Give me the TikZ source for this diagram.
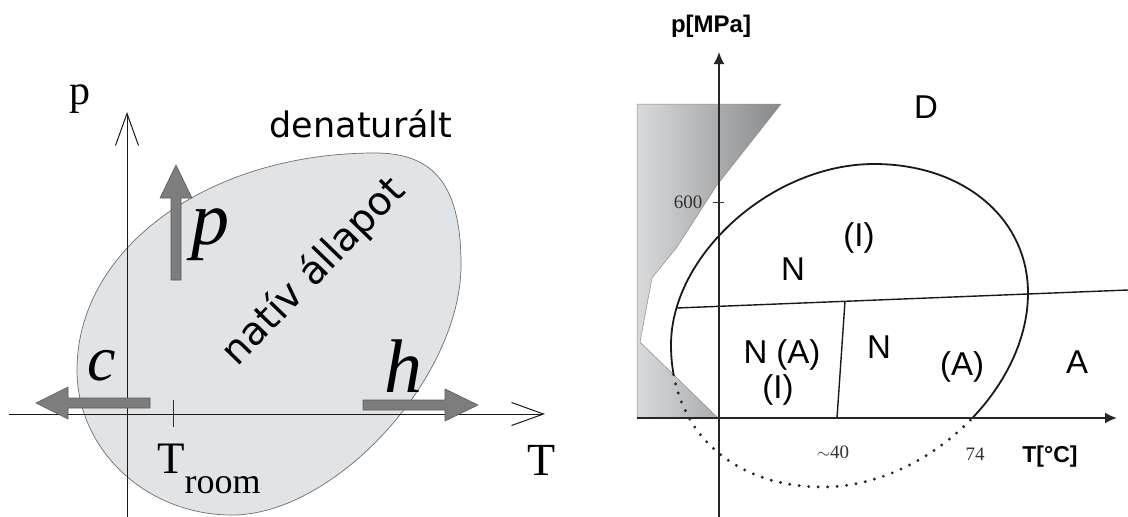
\documentclass[tikz,border=0pt]{standalone}
\usepackage{fontspec}
\setmainfont{Liberation Serif}
\newfontfamily\dvsans{DejaVu Sans}
\newfontfamily\lsans{Liberation Sans}
\usetikzlibrary{arrows.meta}
\definecolor{eggfill}{HTML}{E1E4E7}
\definecolor{eggline}{HTML}{6E6E6E}
\definecolor{arrowgray}{HTML}{7D7D7D}
\definecolor{arrowedge}{HTML}{5A5A5A}
\definecolor{bandlight}{HTML}{D8DADC}
\definecolor{banddark}{HTML}{86888A}
\tikzset{
  thinaxis/.style={line width=1pt, draw=black!90, -{Straight Barb[length=32pt,width=23pt]}},
  boldaxis/.style={line width=1.8pt, draw=black!85, -{Latex[length=12pt,width=11pt]}},
  grayarrow/.style={fill=arrowgray, draw=arrowedge, line width=0.6pt},
  egg/.style={fill=eggfill, draw=eggline, line width=0.7pt},
  phase/.style={line width=1.8pt, draw=black!90},
  divider/.style={line width=1.4pt, draw=black!90},
  dotline/.style={line width=3.2pt, draw=black!85, line cap=round, dash pattern=on 0pt off 9.5pt},
  serifbig/.style={inner sep=0pt, anchor=base, font=\fontsize{46}{48}\selectfont},
  italbig/.style={inner sep=0pt, anchor=base, font=\itshape\fontsize{76}{80}\selectfont},
  region/.style={inner sep=0pt, anchor=base, font=\lsans\fontsize{33}{36}\selectfont},
  tickno/.style={inner sep=0pt, anchor=base, font=\fontsize{19}{20}\selectfont, text=black!80},
  unitlab/.style={inner sep=0pt, anchor=base, font=\lsans\bfseries\fontsize{23}{25}\selectfont},
}
\begin{document}
\begin{tikzpicture}[x=1pt,y=-1pt]
\useasboundingbox (0,0) rectangle (1128,517);
\fill[white] (0,0) rectangle (1128,517);

%% ---------------- left panel ----------------
\filldraw[egg] (77,370) .. controls (77,450) and (146.4,515) .. (232,515)
  .. controls (335,515) and (461,377.5) .. (461,265)
  .. controls (461,186.6) and (435.2,153) .. (375,153)
  .. controls (208,153) and (77,248.5) .. (77,370) -- cycle;

\coordinate (lyb) at (127,517);
\coordinate (lyt) at (127,112);
\coordinate (lxl) at (9,414);
\coordinate (lxr) at (545,414);
\draw[thinaxis] (lyb) -- (lyt);
\draw[thinaxis] (lxl) -- (lxr);
\coordinate (tka) at (173,400);
\coordinate (tkb) at (173,427);
\draw[line width=0.8pt, black!80] (tka) -- (tkb);

% gray arrows
\draw[grayarrow] (150,398) -- (68,398) -- (68,387) -- (36,403) -- (68,419) -- (68,408) -- (150,408) -- cycle;
\draw[grayarrow] (363,400) -- (445,400) -- (445,389) -- (478,405) -- (445,421) -- (445,410) -- (363,410) -- cycle;
\draw[grayarrow] (171,280) -- (171,198) -- (160,198) -- (176,165) -- (192,198) -- (181,198) -- (181,280) -- cycle;

\node[inner sep=0pt, anchor=base, font=\fontsize{42}{44}\selectfont] (plab) at (80,104) {p};
\node[serifbig] (tlab) at (542,475) {T};
\node[inner sep=0pt, anchor=base west] (troom) at (157,473)
  {\fontsize{45}{46}\selectfont T\fontsize{36}{38}\selectfont\raisebox{-20pt}{room}};
\node[italbig, font=\itshape\fontsize{64}{66}\selectfont] (clab) at (102,380) {c};
\node[italbig] (hlab) at (403,392) {h};
\node[italbig] (pilab) at (210,244) {p};
\node[inner sep=0pt, anchor=base, font=\dvsans\fontsize{35}{38}\selectfont] (den) at (361,137) {denaturált};
\node[inner sep=0pt, rotate=46, font=\dvsans\fontsize{39}{42}\selectfont] (nat) at (314,272) {natív állapot};

%% ---------------- right panel ----------------
\shade[left color=bandlight, right color=banddark, draw=black!45, line width=0.5pt]
  (637,104) -- (781,104) -- (717,185) -- (677,247) -- (652,278) -- (640,342) -- (718,418) -- (637,418) -- cycle;

% solid part of the phase boundary
\begin{scope}
  \clip (718,418) -- (1128,418) -- (1128,0) -- (286.7,0) -- cycle;
  \draw[phase] (671,345) .. controls (671,254.5) and (772.5,164) .. (874,164)
     .. controls (963.3,164) and (1028,218.2) .. (1028,293)
     .. controls (1028,390) and (925.5,487) .. (823,487)
     .. controls (731.8,487) and (671,430.2) .. (671,345);
\end{scope}
% dotted part
\begin{scope}
  \clip (286.7,0) -- (718,418) -- (1128,418) -- (1128,517) -- (560,517) -- (560,0) -- cycle;
  \draw[dotline] (671,345) .. controls (671,254.5) and (772.5,164) .. (874,164)
     .. controls (963.3,164) and (1028,218.2) .. (1028,293)
     .. controls (1028,390) and (925.5,487) .. (823,487)
     .. controls (731.8,487) and (671,430.2) .. (671,345);
\end{scope}

\coordinate (hla) at (677,308);
\coordinate (hlb) at (1128,290);
\draw[divider] (hla) -- (hlb);
\coordinate (dva) at (845,301.3);
\coordinate (dvb) at (837,418);
\draw[divider] (dva) -- (dvb);

\coordinate (ryb) at (719,517);
\coordinate (ryt) at (719,52);
\coordinate (rxl) at (637,418);
\coordinate (rxr) at (1117,418);
\draw[boldaxis] (ryb) -- (ryt);
\draw[boldaxis] (rxl) -- (rxr);
\coordinate (t6a) at (713,202);
\coordinate (t6b) at (724,202);
\draw[line width=0.7pt, black!80] (t6a) -- (t6b);

\node[tickno] (six) at (688,208) {600};
\node[tickno] (forty) at (833,458) {$\sim$40};
\node[tickno] (sevfour) at (975,460) {74};
\node[unitlab, font=\lsans\bfseries\fontsize{24}{26}\selectfont] (plabr) at (711,32) {p[MPa]};
\node[unitlab] (tlabr) at (1050,462) {T[°C]};

\node[region] (D) at (926,118) {D};
\node[region] (I1) at (859,246) {(I)};
\node[region] (N1) at (793,280) {N};
\node[region] (NA) at (782,363) {N (A)};
\node[region] (I2) at (778,398) {(I)};
\node[region] (N2) at (879,358) {N};
\node[region] (A1) at (962,375) {(A)};
\node[region] (A2) at (1077,373) {A};
\end{tikzpicture}
\end{document}
